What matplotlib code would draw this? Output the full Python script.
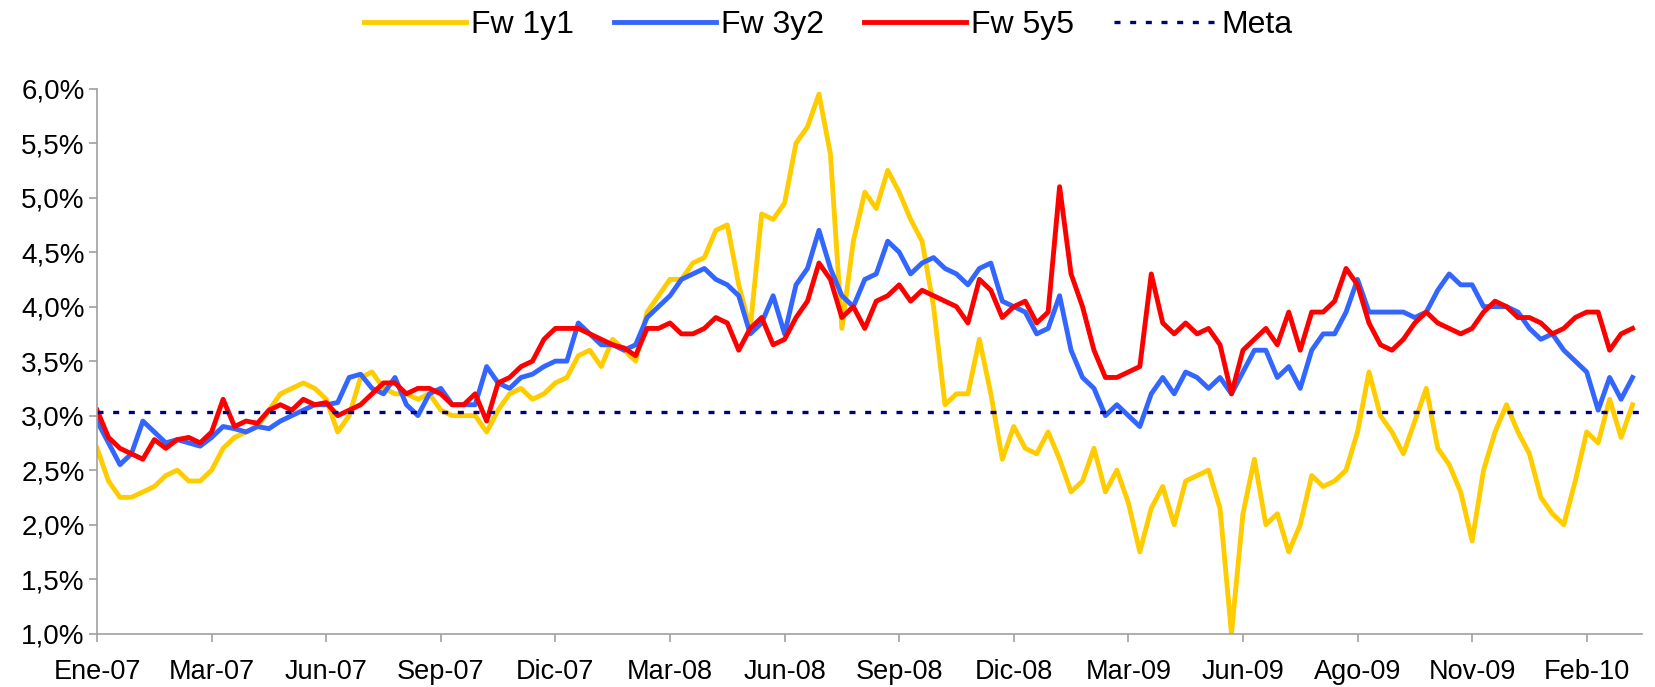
import matplotlib
matplotlib.use("Agg")
import matplotlib.pyplot as plt
import numpy as np

plt.rcParams['font.family'] = ['Liberation Sans', 'DejaVu Sans']

# trading-day index of each sample (one reading every 6 days)
days = np.arange(0, 810, 6)

fw_1y1 = [
    2.7, 2.4, 2.25, 2.25, 2.3, 2.35, 2.45, 2.5, 2.4, 2.4,
    2.5, 2.7, 2.8, 2.85, 2.9, 3.05, 3.2, 3.25, 3.3, 3.25,
    3.15, 2.85, 3.0, 3.35, 3.4, 3.25, 3.2, 3.2, 3.15, 3.2,
    3.05, 3.0, 3.0, 3.0, 2.85, 3.05, 3.2, 3.25, 3.15, 3.2,
    3.3, 3.35, 3.55, 3.6, 3.45, 3.7, 3.6, 3.5, 3.95, 4.1,
    4.25, 4.25, 4.4, 4.45, 4.7, 4.75, 4.2, 3.8, 4.85, 4.8,
    4.95, 5.5, 5.65, 5.95, 5.4, 3.8, 4.6, 5.05, 4.9, 5.25,
    5.05, 4.8, 4.6, 4.0, 3.1, 3.2, 3.2, 3.7, 3.2, 2.6,
    2.9, 2.7, 2.65, 2.85, 2.6, 2.3, 2.4, 2.7, 2.3, 2.5,
    2.2, 1.75, 2.15, 2.35, 2.0, 2.4, 2.45, 2.5, 2.15, 1.0,
    2.1, 2.6, 2.0, 2.1, 1.75, 2.0, 2.45, 2.35, 2.4, 2.5,
    2.85, 3.4, 3.0, 2.85, 2.65, 2.95, 3.25, 2.7, 2.55, 2.3,
    1.85, 2.5, 2.85, 3.1, 2.85, 2.65, 2.25, 2.1, 2.0, 2.4,
    2.85, 2.75, 3.15, 2.8, 3.1,
]

fw_3y2 = [
    2.95, 2.75, 2.55, 2.65, 2.95, 2.85, 2.75, 2.78, 2.75, 2.72,
    2.8, 2.9, 2.88, 2.85, 2.9, 2.88, 2.95, 3.0, 3.05, 3.1,
    3.1, 3.12, 3.35, 3.38, 3.25, 3.2, 3.35, 3.1, 3.0, 3.2,
    3.25, 3.1, 3.1, 3.1, 3.45, 3.3, 3.25, 3.35, 3.38, 3.45,
    3.5, 3.5, 3.85, 3.75, 3.65, 3.65, 3.6, 3.65, 3.9, 4.0,
    4.1, 4.25, 4.3, 4.35, 4.25, 4.2, 4.1, 3.75, 3.85, 4.1,
    3.75, 4.2, 4.35, 4.7, 4.35, 4.1, 4.0, 4.25, 4.3, 4.6,
    4.5, 4.3, 4.4, 4.45, 4.35, 4.3, 4.2, 4.35, 4.4, 4.05,
    4.0, 3.95, 3.75, 3.8, 4.1, 3.6, 3.35, 3.25, 3.0, 3.1,
    3.0, 2.9, 3.2, 3.35, 3.2, 3.4, 3.35, 3.25, 3.35, 3.2,
    3.4, 3.6, 3.6, 3.35, 3.45, 3.25, 3.6, 3.75, 3.75, 3.95,
    4.25, 3.95, 3.95, 3.95, 3.95, 3.9, 3.95, 4.15, 4.3, 4.2,
    4.2, 4.0, 4.0, 4.0, 3.95, 3.8, 3.7, 3.75, 3.6, 3.5,
    3.4, 3.05, 3.35, 3.15, 3.35,
]

fw_5y5 = [
    3.05, 2.8, 2.7, 2.65, 2.6, 2.78, 2.7, 2.78, 2.8, 2.75,
    2.85, 3.15, 2.9, 2.95, 2.93, 3.05, 3.1, 3.05, 3.15, 3.1,
    3.12, 3.0, 3.05, 3.1, 3.2, 3.3, 3.3, 3.2, 3.25, 3.25,
    3.2, 3.1, 3.1, 3.2, 2.95, 3.3, 3.35, 3.45, 3.5, 3.7,
    3.8, 3.8, 3.8, 3.75, 3.7, 3.65, 3.62, 3.55, 3.8, 3.8,
    3.85, 3.75, 3.75, 3.8, 3.9, 3.85, 3.6, 3.8, 3.9, 3.65,
    3.7, 3.9, 4.05, 4.4, 4.25, 3.9, 4.0, 3.8, 4.05, 4.1,
    4.2, 4.05, 4.15, 4.1, 4.05, 4.0, 3.85, 4.25, 4.15, 3.9,
    4.0, 4.05, 3.85, 3.95, 5.1, 4.3, 4.0, 3.6, 3.35, 3.35,
    3.4, 3.45, 4.3, 3.85, 3.75, 3.85, 3.75, 3.8, 3.65, 3.2,
    3.6, 3.7, 3.8, 3.65, 3.95, 3.6, 3.95, 3.95, 4.05, 4.35,
    4.2, 3.85, 3.65, 3.6, 3.7, 3.85, 3.95, 3.85, 3.8, 3.75,
    3.8, 3.95, 4.05, 4.0, 3.9, 3.9, 3.85, 3.75, 3.8, 3.9,
    3.95, 3.95, 3.6, 3.75, 3.8,
]

meta = 3.03

tick_days = np.arange(0, 840, 60)
tick_labels = ['Ene-07', 'Mar-07', 'Jun-07', 'Sep-07', 'Dic-07', 'Mar-08', 'Jun-08',
               'Sep-08', 'Dic-08', 'Mar-09', 'Jun-09', 'Ago-09', 'Nov-09', 'Feb-10']

fig = plt.figure(figsize=(16.56, 6.87), dpi=100)
ax = fig.add_axes([0.0586, 0.0777, 0.933, 0.7933])

ax.plot(days, fw_1y1, color='#FFCC00', lw=3.5, label='Fw 1y1')
ax.plot(days, fw_3y2, color='#3366FF', lw=3.5, label='Fw 3y2')
ax.plot(days, fw_5y5, color='#FF0000', lw=3.5, label='Fw 5y5')
ax.axhline(meta, color='#000080', lw=2.4, ls=(0, (1.8, 2.9)), label='Meta')

ax.set_xlim(0, 809)
ax.set_ylim(1.0, 6.0)
ax.set_yticks(np.arange(1.0, 6.01, 0.5))
ax.set_yticklabels([f'{v:.1f}%'.replace('.', ',') for v in np.arange(1.0, 6.01, 0.5)])
ax.set_xticks(tick_days)
ax.set_xticklabels(tick_labels)

for s in ['top', 'right']:
    ax.spines[s].set_visible(False)
for s in ['left', 'bottom']:
    ax.spines[s].set_color('#A0A0A0')
    ax.spines[s].set_linewidth(1.2)
ax.tick_params(axis='both', colors='#A0A0A0', labelcolor='black', length=6, width=1.2)
ax.tick_params(axis='y', labelsize=20, pad=3)
ax.tick_params(axis='x', labelsize=19.5, pad=12)

fig.legend(loc='center', bbox_to_anchor=(0.5, 0.963), ncol=4, frameon=False,
           fontsize=23, handlelength=3.2, handletextpad=0.15, columnspacing=1.25)

fig.savefig('out.png', dpi=100)
